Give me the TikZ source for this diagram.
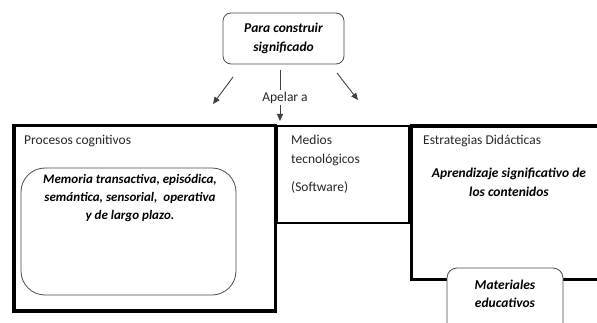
\documentclass[tikz,border=0pt]{standalone}
\usepackage{fontspec}
\setmainfont{Carlito}
\usetikzlibrary{arrows.meta,positioning}

\begin{document}
\begin{tikzpicture}[x=1pt,y=-1pt,
  every node/.style={font=\fontsize{13.5}{18.5}\selectfont, text=black!85},
  caja/.style={draw, line width=3.5pt, outer sep=0pt, inner sep=0pt},
  cajafina/.style={draw, line width=2.2pt, outer sep=0pt, inner sep=0pt},
  redonda/.style={draw=black!70, line width=0.8pt, fill=white, outer sep=0pt, inner sep=0pt},
  etiqueta/.style={inner sep=0pt, align=left},
  negrita/.style={inner sep=0pt, align=center, text=black, font=\fontsize{13.5}{18.5}\selectfont\bfseries\itshape},
  flecha/.style={draw=black!75, line width=0.9pt, -{Triangle[length=7pt,width=6pt]}}]
\useasboundingbox (0,0) rectangle (597,323);
\clip (0,0) rectangle (597,323);

% top box
\node[redonda, rounded corners=8pt, minimum width=121pt, minimum height=51pt] (para) at (283.5,38.5) {};
\node[negrita] (paratxt) at (para.center) {Para construir\\significado};

% the three frames
\node[caja, minimum width=261.5pt, minimum height=185.5pt] (procesos) at (144.75,218.25) {};
\node[caja, minimum width=208.5pt, minimum height=153.5pt] (estrategias) at (515.75,202.75) {};
\node[cajafina, minimum width=133pt, minimum height=97pt] (medios) at (343.5,174.5) {};
\draw[line width=3.5pt] (medios.north east) -- (medios.south east);

\node[etiqueta, below right=9.5pt and 10pt of procesos.north west] (procesostxt) {Procesos cognitivos};
\node[etiqueta, below right=9pt and 14pt of medios.north west] (mediostxt) {Medios\\tecnol\'ogicos\\[10pt](Software)};
\node[etiqueta, below right=9pt and 11.5pt of estrategias.north west] (estrategiastxt) {Estrategias Did\'acticas};
\node[negrita] (aprendizaje) at (509,182.5) {Aprendizaje significativo de\\los contenidos};

% inner boxes
\node[redonda, rounded corners=24pt, minimum width=215pt, minimum height=127pt] (memoria) at (128.5,231.5) {};
\node[negrita, font=\fontsize{13}{18}\selectfont\bfseries\itshape] (memoriatxt) at (130,198) {Memoria transactiva, epis\'odica,\\sem\'antica, sensorial,\ \ operativa\\y de largo plazo.};
\node[redonda, rounded corners=10pt, minimum width=116pt, minimum height=67pt] (materiales) at (505,301.5) {};
\node[negrita] (materialestxt) at (505,294) {Materiales\\educativos};

% arrows
\coordinate (izq1) at (233,77);
\coordinate (izq2) at (213,104);
\coordinate (cen1) at (280,70);
\coordinate (cen2) at (280,121);
\coordinate (der1) at (337,73);
\coordinate (der2) at (358,100);
\draw[flecha] (izq1) -- (izq2);
\draw[flecha] (der1) -- (der2);
\draw[flecha] (cen1) -- node[fill=white, inner sep=1.5pt, xshift=5pt, yshift=-2pt] (apelar) {Apelar a} (cen2);
\end{tikzpicture}
\end{document}
